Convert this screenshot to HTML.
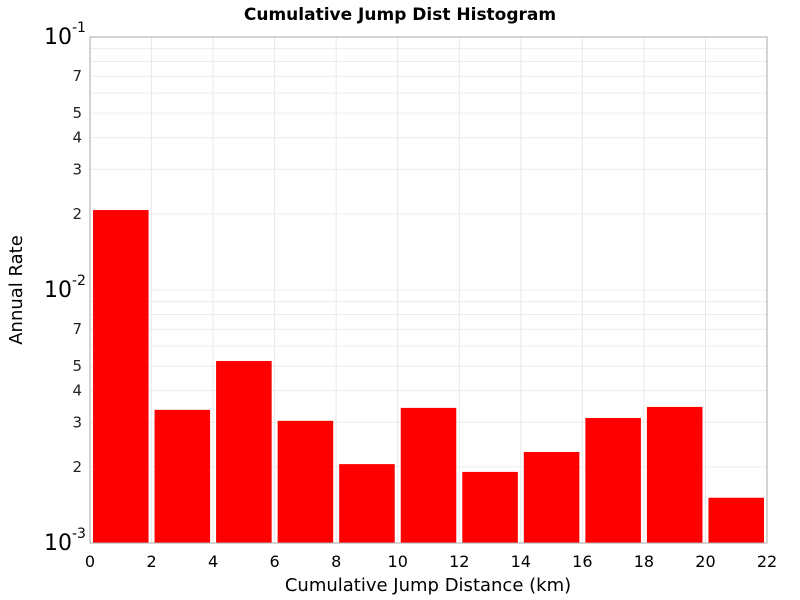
<!DOCTYPE html>
<html><head><meta charset="utf-8"><style>body{margin:0;background:#fff}svg{display:block;font-family:"DejaVu Sans","Liberation Sans",sans-serif}</style></head>
<body>
<svg id="chart" width="800" height="600">
<text x="400" y="20" text-anchor="middle" font-size="17" font-weight="bold">Cumulative Jump Dist Histogram</text>
<text x="428" y="591" text-anchor="middle" font-size="18">Cumulative Jump Distance (km)</text>
<text transform="translate(22,290) rotate(-90)" text-anchor="middle" font-size="18">Annual Rate</text>
<g id="grid"></g><g id="bars"></g><g id="ticks"></g>
<rect x="90" y="37" width="677" height="506" fill="none" stroke="#aaa"/>
</svg>
<script>
const binStarts=[0,2,4,6,8,10,12,14,16,18,20];
const binWidth=2;
const rates=[0.0207,0.00336,0.00524,0.00304,0.00205,0.00342,0.00191,0.00229,0.00312,0.00345,0.00151];
const xTicks=[0,2,4,6,8,10,12,14,16,18,20,22];
const yMinor=[2,3,4,5,7];
const L=90,R=767,T=37,B=543,xmax=22,ymin=-3,ymax=-1;
const ns='http://www.w3.org/2000/svg';
const xs=v=>L+(v/xmax)*(R-L);
const ys=v=>B-(Math.log10(v)-ymin)/(ymax-ymin)*(B-T);
function mk(p,t,a){const e=document.createElementNS(ns,t);for(const k in a)e.setAttribute(k,a[k]);document.getElementById(p).appendChild(e);return e;}
for(const t of xTicks){const g=mk('grid','line',{x1:xs(t),x2:xs(t),y1:T,y2:B,stroke:'#e8e8e8'});

const l=mk('ticks','text',{x:xs(t),y:567,'text-anchor':'middle','font-size':16});l.textContent=t;
}
for(let d=-3;d<-1;d++)for(let m=1;m<10;m++){const v=m*Math.pow(10,d);const g=mk('grid','line',{x1:L,x2:R,y1:ys(v),y2:ys(v),stroke:'#ececec'});
}
for(let d=-3;d<=-1;d++){const y=ys(Math.pow(10,d));const t=mk('ticks','text',{x:72,y:y+7,'text-anchor':'end','font-size':22});t.textContent='10';

const s=mk('ticks','text',{x:72,y:y-5,'font-size':14});s.textContent=String(d);
}
for(let d=-3;d<-1;d++)for(const m of yMinor){const y=ys(m*Math.pow(10,d));const t=mk('ticks','text',{x:82,y:y+5,'text-anchor':'end','font-size':15,fill:'#222'});t.textContent=m;
}
binStarts.forEach((s,i)=>{const x0=xs(s)+3,x1=xs(s+binWidth)-3,y=ys(rates[i]);
const r=mk('bars','rect',{x:x0,y:y,width:x1-x0,height:B-y,fill:'#ff0000'});
});
</script>
</body></html>
